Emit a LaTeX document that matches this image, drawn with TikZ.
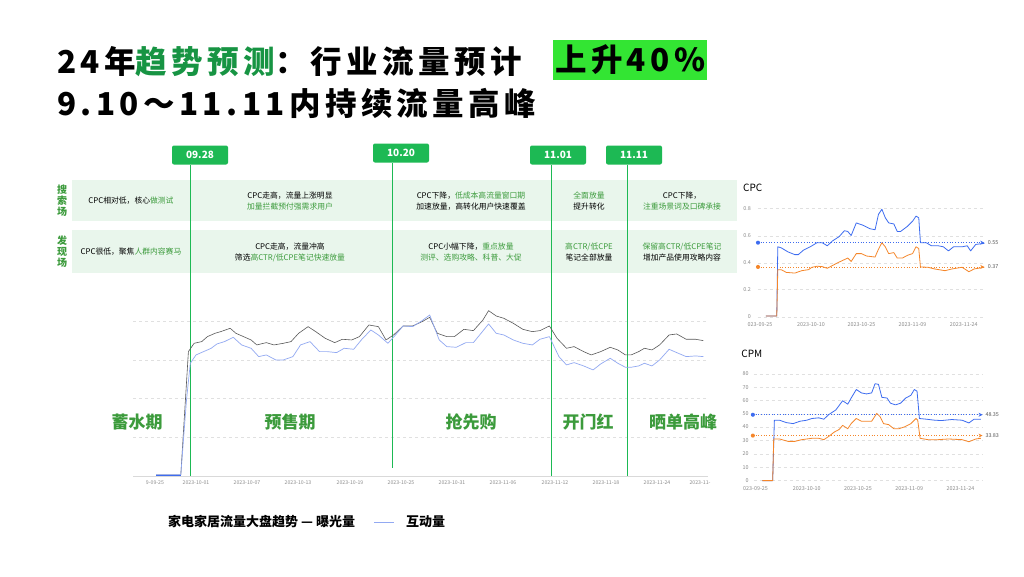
\documentclass[tikz,border=0pt]{standalone}
\usepackage{fontspec}
\setmainfont{Noto Sans CJK SC}
\usetikzlibrary{arrows.meta}
\definecolor{gr}{HTML}{3C9B3C}
\definecolor{hdr}{HTML}{1DB954}
\definecolor{rowbg}{HTML}{E9F6EC}
\definecolor{hl}{HTML}{33E533}
\definecolor{bl}{HTML}{3D6CF0}
\definecolor{orr}{HTML}{F5862A}
\definecolor{lb}{HTML}{92A9F2}
\tikzset{
 hbox/.style={fill=hdr,rounded corners=2pt,text=white,font=\fontsize{10}{10}\selectfont\bfseries,minimum width=56,minimum height=19,inner sep=0},
 cell/.style={align=center,font=\fontsize{7.8}{11}\selectfont,inner sep=0},
 phase/.style={text=gr,font=\fontsize{17}{17}\selectfont\bfseries,inner sep=0},
 vl/.style={draw=hdr,line width=0.9pt},
 grid/.style={draw=black!12,dashed,line width=0.4pt},
 axl/.style={text=black!45,font=\fontsize{5.2}{5}\selectfont,inner sep=0},
 sax/.style={text=black!45,font=\fontsize{5.4}{5}\selectfont,inner sep=0},
 side/.style={text=gr,font=\fontsize{10}{11}\selectfont\bfseries,align=center,inner sep=0},
 ttl/.style={inner sep=0,font=\fontsize{31.5}{31}\selectfont\bfseries\addfontfeature{LetterSpace=14}}
}
\begin{document}
\begin{tikzpicture}[x=1pt,y=-1pt]
\useasboundingbox[fill=white] (0,0) rectangle (1024,576);
% title
\node[ttl,anchor=west] (t1) at (57,62) {24年\textcolor{hdr!80!black}{趋势预测}：行业流量预计};
\node[ttl,anchor=west,fill=hl,inner xsep=2pt,minimum height=40] (t1b) at (553,60) {上升40\%};
\node[ttl,anchor=west] (t2) at (57,103) {9.10～11.11内持续流量高峰};
% table rows
\fill[rowbg] (72,180) rectangle (737,221);
\fill[rowbg] (72,230) rectangle (737,273);
\node[side] (s1) at (62,201) {搜\\索\\场};
\node[side] (s2) at (62,252) {发\\现\\场};
% grid main
\foreach \y in {321,360,398,437} \draw[grid] (133,\y) -- (708,\y);
\draw[black!15] (133,476) -- (708,476);
% vertical lines and headers
\node[hbox] (h1) at (200,155) {09.28};
\node[hbox] (h2) at (401,153) {10.20};
\node[hbox] (h3) at (558,155) {11.01};
\node[hbox] (h4) at (634,155) {11.11};
\coordinate (b1) at (190,476); \coordinate (b2) at (392,468);
\coordinate (b3) at (551,476); \coordinate (b4) at (627,476);
\draw[vl] (190,165) -- (b1); \draw[vl] (392,163) -- (b2);
\draw[vl] (551,165) -- (b3); \draw[vl] (627,165) -- (b4);
% cells
\node[cell] (c11) at (131,201) {CPC相对低，核心\textcolor{gr}{做测试}};
\node[cell] (c12) at (290,201) {CPC走高，流量上涨明显\\\textcolor{gr}{加量拦截预付强需求用户}};
\node[cell] (c13) at (471,201) {CPC下降，\textcolor{gr}{低成本高流量窗口期}\\加速放量，高转化用户快速覆盖};
\node[cell] (c14) at (589,201) {\textcolor{gr}{全面放量}\\提升转化};
\node[cell] (c15) at (682,201) {CPC下降，\\\textcolor{gr}{注重场景词及口碑承接}};
\node[cell] (c21) at (131,252) {CPC很低，聚焦\textcolor{gr}{人群内容赛马}};
\node[cell] (c22) at (290,252) {CPC走高，流量冲高\\筛选\textcolor{gr}{高CTR/低CPE笔记快速放量}};
\node[cell] (c23) at (471,252) {CPC小幅下降，\textcolor{gr}{重点放量}\\\textcolor{gr}{测评、选购攻略、科普、大促}};
\node[cell] (c24) at (589,252) {\textcolor{gr}{高CTR/低CPE}\\笔记全部放量};
\node[cell] (c25) at (682,252) {\textcolor{gr}{保留高CTR/低CPE笔记}\\增加产品使用攻略内容};
% main curves
\begin{scope}[shift={(120,290)},xscale=0.380,yscale=0.333]
\draw[black!65,line width=0.6pt,line join=round] (95,555)--(160,555)--(180,185)--(195,160)--(215,155)--(230,140)--(250,130)--(265,125)--(290,115)--(305,130)--(325,140)--(345,150)--(360,165)--(385,158)--(405,165)--(430,160)--(450,155)--(470,130)--(495,110)--(515,125)--(540,145)--(565,158)--(585,148)--(610,150)--(630,140)--(655,105)--(680,110)--(700,150)--(720,135)--(745,108)--(770,108)--(795,95)--(815,82)--(835,130)--(860,140)--(880,140)--(905,118)--(930,122)--(955,90)--(970,62)--(990,78)--(1010,85)--(1035,100)--(1060,118)--(1085,125)--(1105,122)--(1130,108)--(1150,145)--(1175,175)--(1195,170)--(1220,185)--(1240,195)--(1265,185)--(1290,172)--(1310,180)--(1330,195)--(1345,195)--(1365,185)--(1380,175)--(1400,180)--(1420,165)--(1445,135)--(1465,132)--(1490,148)--(1515,148)--(1535,152);
\draw[lb,line width=0.7pt,line join=round] (95,555)--(160,555)--(175,330)--(185,220)--(200,195)--(220,185)--(240,175)--(255,162)--(275,155)--(298,142)--(320,165)--(345,175)--(365,200)--(385,195)--(410,210)--(430,210)--(455,200)--(475,165)--(500,155)--(525,185)--(545,185)--(570,188)--(590,175)--(615,178)--(635,150)--(660,120)--(680,135)--(705,160)--(725,135)--(745,108)--(770,110)--(795,92)--(815,75)--(840,150)--(860,170)--(885,172)--(910,158)--(930,158)--(950,130)--(970,102)--(990,130)--(1010,135)--(1035,150)--(1060,160)--(1085,165)--(1105,148)--(1130,140)--(1155,200)--(1175,225)--(1195,218)--(1220,228)--(1245,240)--(1265,222)--(1290,205)--(1310,220)--(1330,232)--(1345,232)--(1365,228)--(1380,220)--(1400,228)--(1420,210)--(1445,178)--(1465,188)--(1490,200)--(1515,198)--(1535,200);
\draw[bl,line width=0.9pt] (95,556)--(160,556);
\end{scope}
% x labels main
\foreach \x/\t [count=\i] in {155/9-09-25,196/2023-10-01,247/2023-10-07,298/2023-10-13,350/2023-10-19,401/2023-10-25,452/2023-10-31,503/2023-11-06,555/2023-11-12,606/2023-11-18,657/2023-11-24,700/2023-11-}
  \node[axl] (mx\i) at (\x,483) {\t};
% phases
\node[phase] (p1) at (137,422) {蓄水期};
\node[phase] (p2) at (290,422) {预售期};
\node[phase] (p3) at (471,422) {抢先购};
\node[phase] (p4) at (588,422) {开门红};
\node[phase] (p5) at (683,422) {晒单高峰};
% legend
\node[anchor=west,inner sep=0,font=\fontsize{13}{13}\selectfont\bfseries] (lg1) at (168,522) {家电家居流量大盘趋势 — 曝光量};
\coordinate (la) at (374,522); \coordinate (lbb) at (394,522);
\draw[lb,line width=1pt] (la) -- (lbb);
\node[anchor=west,inner sep=0,font=\fontsize{13}{13}\selectfont\bfseries] (lg2) at (406,522) {互动量};
% CPC chart
\begin{scope}[shift={(730,170)},scale=0.3413]
\node[anchor=west,inner sep=0,font=\fontsize{10}{10}\selectfont] (cpct) at (38,52) {CPC};
\foreach \y/\l [count=\i] in {113/0.8,193/0.6,272/0.4,350/0.2,430/0} {
 \draw[black!12,dashed] (82,\y) -- (750,\y);
 \node[sax,anchor=east] (cy\i) at (62,\y) {\l};}
\foreach \x/\t [count=\i] in {88/023-09-25,237/2023-10-10,385/2023-10-25,535/2023-11-09,685/2023-11-24}
 \node[sax] (cx\i) at (\x,452) {\t};
\draw[bl,dotted,line width=0.7pt,-{Stealth[length=4pt,width=4pt]}] (82,213) -- (745,213);
\fill[bl] (82,213) circle (6);
\draw[orr,dotted,line width=0.7pt,-{Stealth[length=4pt,width=4pt]}] (82,284) -- (745,284);
\fill[orr] (82,284) circle (6);
\node[anchor=west,sax,text=black!65] (cm1) at (755,213) {0.55};
\node[anchor=west,sax,text=black!65] (cm2) at (755,284) {0.37};
\draw[bl,line width=0.8pt,line join=round] (105,428)--(137,428)--(140,225)--(150,228)--(170,240)--(190,248)--(200,248)--(215,235)--(235,225)--(255,213)--(270,213)--(285,222)--(300,208)--(320,195)--(335,178)--(345,180)--(355,192)--(370,155)--(390,162)--(410,172)--(425,175)--(435,130)--(445,115)--(455,140)--(465,155)--(480,158)--(490,180)--(500,180)--(520,165)--(535,150)--(545,135)--(553,140)--(558,213)--(575,213)--(590,222)--(610,222)--(625,225)--(640,237)--(655,225)--(680,225)--(695,222)--(705,237)--(720,218)--(745,215);
\draw[orr,line width=0.8pt,line join=round] (105,428)--(137,428)--(140,292)--(150,292)--(165,300)--(190,302)--(210,295)--(230,292)--(240,285)--(255,282)--(270,283)--(285,288)--(300,280)--(315,272)--(330,265)--(345,258)--(355,268)--(370,245)--(385,245)--(400,252)--(425,255)--(435,232)--(445,213)--(455,225)--(465,245)--(480,242)--(490,258)--(505,258)--(520,250)--(535,245)--(545,225)--(553,230)--(558,284)--(580,285)--(600,290)--(630,295)--(650,290)--(680,285)--(700,298)--(715,290)--(745,285);
\end{scope}
% CPM chart
\begin{scope}[shift={(730,340)},scale=0.3413]
\node[anchor=west,inner sep=0,font=\fontsize{10}{10}\selectfont] (cpmt) at (33,40) {CPM};
\foreach \y/\l [count=\i] in {99/80,138/70,177/60,216/50,255/40,295/30,334/20,373/10,412/0} {
 \draw[black!12,dashed] (70,\y) -- (740,\y);
 \node[sax,anchor=east] (my\i) at (55,\y) {\l};}
\foreach \x/\t [count=\i] in {75/023-09-25,225/2023-10-10,375/2023-10-25,525/2023-11-09,675/2023-11-24}
 \node[sax] (mcx\i) at (\x,436) {\t};
\draw[bl,dotted,line width=0.7pt,-{Stealth[length=4pt,width=4pt]}] (67,219) -- (740,219);
\fill[bl] (67,219) circle (6);
\draw[orr,dotted,line width=0.7pt,-{Stealth[length=4pt,width=4pt]}] (67,280) -- (740,280);
\fill[orr] (67,280) circle (6);
\node[anchor=west,sax,text=black!65] (mm1) at (748,219) {48.35};
\node[anchor=west,sax,text=black!65] (mm2) at (748,280) {33.83};
\draw[bl,line width=0.8pt,line join=round] (95,412)--(125,412)--(130,235)--(145,235)--(165,242)--(185,245)--(205,238)--(225,235)--(240,230)--(260,228)--(275,232)--(290,218)--(310,205)--(330,178)--(345,188)--(355,170)--(370,145)--(385,155)--(400,158)--(415,155)--(425,128)--(435,130)--(445,168)--(460,170)--(470,185)--(485,190)--(500,185)--(515,170)--(530,162)--(540,145)--(548,150)--(555,230)--(575,232)--(600,235)--(620,236)--(650,233)--(680,235)--(700,243)--(715,232)--(735,232);
\draw[orr,line width=0.8pt,line join=round] (95,412)--(125,412)--(128,290)--(145,290)--(170,297)--(190,297)--(210,292)--(240,288)--(260,288)--(275,292)--(290,282)--(305,270)--(320,262)--(330,250)--(345,260)--(355,245)--(370,230)--(385,238)--(400,238)--(415,238)--(430,215)--(440,225)--(450,245)--(465,248)--(480,260)--(495,260)--(510,255)--(530,245)--(545,230)--(550,235)--(557,288)--(580,292)--(610,292)--(640,290)--(680,292)--(700,298)--(720,290)--(735,288);
\end{scope}
\end{tikzpicture}
\end{document}
